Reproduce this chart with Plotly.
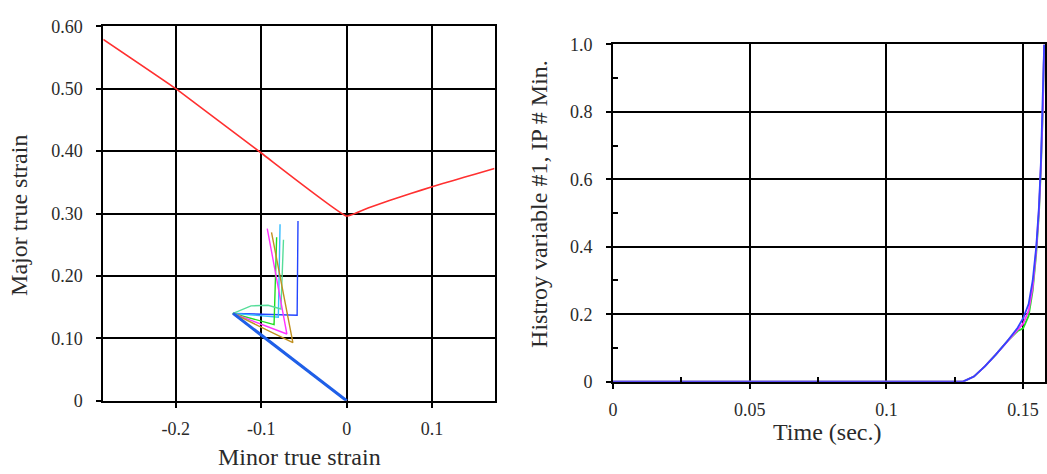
import plotly.graph_objects as go

# ---------- Left chart: forming limit diagram ----------
fld_minor = [-0.285, -0.2, -0.1, 0.0, 0.025, 0.05, 0.075, 0.1, 0.125, 0.15, 0.173]
fld_major = [0.579, 0.50, 0.397, 0.296, 0.309, 0.321, 0.332, 0.343, 0.353, 0.363, 0.372]

path_names = ["blue", "cyan", "green", "teal", "magenta", "gold"]
path_colors = ["#2244ff", "#33bbff", "#22dd22", "#55dd99", "#ff33ff", "#c09020"]
path_minor = [
    [0, -0.133, -0.058, -0.057],
    [0, -0.133, -0.080, -0.078],
    [0, -0.133, -0.085, -0.082],
    [0, -0.133, -0.112, -0.092, -0.077, -0.074],
    [0, -0.133, -0.070, -0.093],
    [0, -0.133, -0.063, -0.088],
]
path_major = [
    [0, 0.140, 0.137, 0.288],
    [0, 0.140, 0.134, 0.283],
    [0, 0.140, 0.122, 0.262],
    [0, 0.140, 0.152, 0.153, 0.147, 0.258],
    [0, 0.140, 0.107, 0.276],
    [0, 0.140, 0.093, 0.270],
]
common_minor = [0, -0.133]
common_major = [0, 0.140]

left_xticks = [-0.2, -0.1, 0, 0.1]
left_xtext = ["-0.2", "-0.1", "0", "0.1"]
left_yticks = [0, 0.1, 0.2, 0.3, 0.4, 0.5, 0.6]
left_ytext = ["0", "0.10", "0.20", "0.30", "0.40", "0.50", "0.60"]

# ---------- Right chart: history variable vs time ----------
time_s = [0, 0.120, 0.128, 0.132, 0.136, 0.140, 0.144, 0.148, 0.150, 0.152, 0.1535, 0.1548, 0.1558, 0.1565, 0.1572, 0.1577]
hv_blue = [0, 0, 0, 0.015, 0.045, 0.080, 0.118, 0.160, 0.188, 0.230, 0.30, 0.40, 0.52, 0.65, 0.82, 1.0]
hv_magenta = [0, 0, 0, 0.015, 0.045, 0.080, 0.118, 0.156, 0.172, 0.210, 0.28, 0.39, 0.51, 0.64, 0.81, 1.0]
hv_green = [0, 0, 0, 0.015, 0.045, 0.080, 0.118, 0.150, 0.158, 0.195, 0.27, 0.38, 0.50, 0.63, 0.80, 1.0]

right_xticks = [0, 0.05, 0.1, 0.15]
right_xtext = ["0", "0.05", "0.1", "0.15"]
right_yticks = [0, 0.2, 0.4, 0.6, 0.8, 1.0]
right_ytext = ["0", "0.2", "0.4", "0.6", "0.8", "1.0"]

FONT = "Liberation Serif, Times New Roman, serif"
TXT = "#2a2a2a"

fig = go.Figure()

fig.add_trace(go.Scatter(x=fld_minor, y=fld_major, mode="lines",
                         line=dict(color="#ff3030", width=1.6, shape="spline", smoothing=0.3),
                         xaxis="x", yaxis="y", showlegend=False))
for name, col, xs, ys in zip(path_names, path_colors, path_minor, path_major):
    fig.add_trace(go.Scatter(x=xs, y=ys, mode="lines", name=name,
                             line=dict(color=col, width=1.4), xaxis="x", yaxis="y",
                             showlegend=False))
fig.add_trace(go.Scatter(x=common_minor, y=common_major, mode="lines",
                         line=dict(color="#1f5fe8", width=3), xaxis="x", yaxis="y",
                         showlegend=False))

for ys, col in [(hv_green, "#22dd22"), (hv_magenta, "#ff33ff"), (hv_blue, "#3344ff")]:
    fig.add_trace(go.Scatter(x=time_s, y=ys, mode="lines", line=dict(color=col, width=1.8),
                             xaxis="x2", yaxis="y2", showlegend=False))

axis_common = dict(showline=True, linecolor="black", linewidth=1.8, mirror=True,
                   showgrid=True, gridcolor="black", gridwidth=1.6, zeroline=False,
                   ticks="outside", ticklen=5, tickcolor="black", tickwidth=1.5,
                   tickfont=dict(family=FONT, size=18, color=TXT))

fig.update_layout(
    width=1047, height=474,
    margin=dict(l=0, r=0, t=0, b=0),
    font=dict(family=FONT, color=TXT),
    paper_bgcolor="white", plot_bgcolor="white",
    xaxis=dict(domain=[99/1047, 493/1047], range=[-0.2849, 0.1733], anchor="y",
               tickvals=left_xticks, ticktext=left_xtext, ticklabelstandoff=6, **axis_common),
    yaxis=dict(domain=[1-408/474, 1-17/474], range=[0, 0.6], anchor="x",
               tickvals=left_yticks, ticktext=left_ytext, ticklabelstandoff=10, **axis_common),
    xaxis2=dict(domain=[612/1047, 1.0], range=[0, 0.158], anchor="y2",
                tickvals=right_xticks, ticktext=right_xtext, ticklabelstandoff=6,
                minor=dict(tickvals=[0.025, 0.075, 0.125], ticks="inside", ticklen=5,
                           tickcolor="black", showgrid=False),
                **axis_common),
    yaxis2=dict(domain=[1-388/474, 1-36/474], range=[0, 1.0], anchor="x2",
                tickvals=right_yticks, ticktext=right_ytext, ticklabelstandoff=10,
                minor=dict(tickvals=[0.1, 0.3, 0.5, 0.7, 0.9], ticks="inside", ticklen=5,
                           tickcolor="black", showgrid=False),
                **axis_common),
    annotations=[
        dict(text="Minor true strain", x=296/1047, y=1-467/474, xref="paper", yref="paper",
             xanchor="center", yanchor="middle",
             showarrow=False, font=dict(family=FONT, size=24, color=TXT)),
        dict(text="Major true strain", x=14/1047, y=1-214/474, xref="paper", yref="paper",
             xanchor="center", yanchor="middle",
             showarrow=False, textangle=-90, font=dict(family=FONT, size=24, color=TXT)),
        dict(text="Time (sec.)", x=828/1047, y=1-441/474, xref="paper", yref="paper",
             xanchor="center", yanchor="middle",
             showarrow=False, font=dict(family=FONT, size=24, color=TXT)),
        dict(text="Histroy variable #1, IP # Min.", x=538/1047, y=1-202/474, xref="paper", yref="paper",
             xanchor="center", yanchor="middle",
             showarrow=False, textangle=-90, font=dict(family=FONT, size=24, color=TXT)),
    ],
)

fig.write_html("out.html")
